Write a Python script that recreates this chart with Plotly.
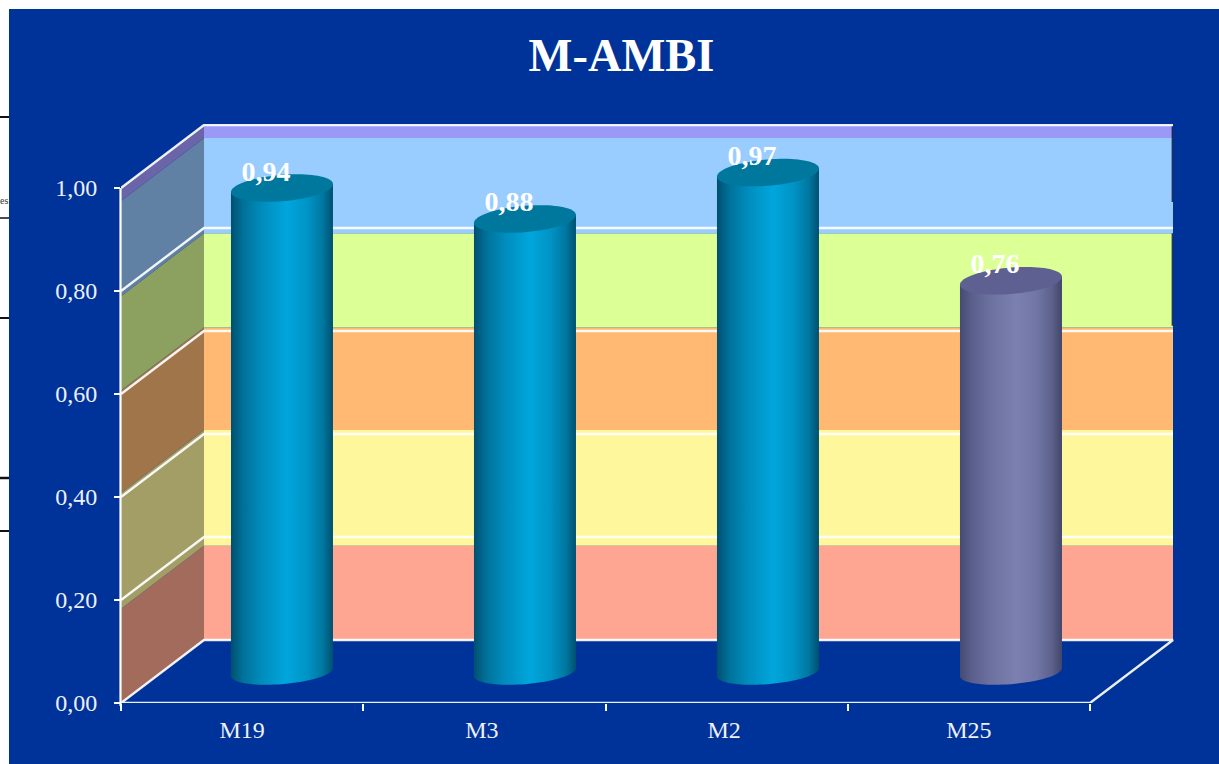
import math
import plotly.graph_objects as go

# ---- data ----
categories = ["M19", "M3", "M2", "M25"]
values = [0.94, 0.88, 0.97, 0.76]
value_labels = ["0,94", "0,88", "0,97", "0,76"]
y_ticks = [0.0, 0.2, 0.4, 0.6, 0.8, 1.0]
label_slots = [0.5, 1.49, 2.49, 3.5]
band_edges = [0.0, 0.183, 0.408, 0.607, 0.79, 0.975, 1.0]
band_back = ["#ffa693", "#fff79c", "#ffb973", "#dcff96", "#99ccff", "#9a99f8"]
band_side = ["#a26b5c", "#a29e66", "#a0754a", "#8ca060", "#6080a4", "#6a64a8"]

BG = "#003399"
LINE = "rgba(255,255,255,0.92)"
FONT = "Liberation Serif"
W, H = 1219, 764
L, R, T, B = 121, 1174, 124, 703
PX_X = (1090 - 121) / 4
PX_Y = 515.0
DX = 83 / PX_X
DY = 63 / PX_Y
A = 51 / PX_X
EB = 12 / PX_Y
TILT = 4 / PX_Y
BAR_STEP = 243 / PX_X

BLUE_SCALE = [[0, "#00506f"], [0.12, "#00719a"], [0.3, "#008cbc"], [0.55, "#00a6dc"],
              [0.75, "#0093c6"], [0.9, "#00779f"], [1, "#00506f"]]
GREY_SCALE = [[0, "#454a72"], [0.12, "#5b5f8c"], [0.3, "#6d719f"], [0.55, "#7c80b0"],
              [0.75, "#7276a6"], [0.9, "#5d618c"], [1, "#42466a"]]
bar_scales = [BLUE_SCALE, BLUE_SCALE, BLUE_SCALE, GREY_SCALE]
bar_tops = ["#00789e", "#00789e", "#00789e", "#5d6090"]

fig = go.Figure()


def poly(xs, ys, color=None, gradient=None):
    kw = dict(x=xs, y=ys, mode="none", fill="toself", hoverinfo="skip",
              showlegend=False, cliponaxis=False)
    if gradient:
        kw["fillgradient"] = dict(type="horizontal", colorscale=gradient)
    else:
        kw["fillcolor"] = color
    fig.add_trace(go.Scatter(**kw))


def line(xs, ys, width=2.4, color=LINE):
    fig.add_trace(go.Scatter(x=xs, y=ys, mode="lines", line=dict(color=color, width=width),
                             hoverinfo="skip", showlegend=False, cliponaxis=False))


n = len(categories)
# walls
for i in range(len(band_back)):
    lo, hi = band_edges[i], band_edges[i + 1]
    poly([0, DX, DX, 0], [lo, lo + DY, hi + DY, hi], color=band_side[i])
    poly([DX, n + DX, n + DX, DX], [lo + DY, lo + DY, hi + DY, hi + DY], color=band_back[i])

# thin dark artefacts at the wall's right edge
line([n + DX - 0.003] * 2, [1 + DY, 1 + DY - 77 / PX_Y], width=1.2, color="#0a1a3a")
line([n + DX - 0.003] * 2, [0.79 + DY, 0.607 + DY + 0.003], width=1.2, color="#0a1a3a")

# gridlines
for v in y_ticks[1:]:
    line([0, DX, n + DX], [v, v + DY, v + DY])
# floor
line([0, DX, n + DX, n, 0], [0, DY, DY, 0, 0])

# cylinders
for i, (v, scale, top) in enumerate(zip(values, bar_scales, bar_tops)):
    cx = 0.5 + DX * 0.48 + i * BAR_STEP
    base = DY * 0.49
    ts = [math.pi * k / 40 for k in range(41)]
    low_x = [cx + A * math.cos(t) for t in ts]
    low_y = [base + TILT * math.cos(t) - EB * math.sin(t) for t in ts]
    poly(low_x + [cx - A, cx + A, low_x[0]],
         low_y + [base + v - TILT, base + v + TILT, low_y[0]], gradient=scale)
    ts2 = [2 * math.pi * k / 80 for k in range(81)]
    poly([cx + A * math.cos(t) for t in ts2],
         [base + v + TILT * math.cos(t) + 1.1 * EB * math.sin(t) for t in ts2], color=top)

# data labels
fig.add_trace(go.Scatter(
    x=[0.5 + DX * 0.48 + i * BAR_STEP - 16 / PX_X for i in range(n)],
    y=[v + DY * 0.49 + 14.5 / PX_Y for v in values],
    mode="text", text=value_labels, textposition="middle center",
    textfont=dict(family=FONT, size=28, color="white", weight="bold"),
    hoverinfo="skip", showlegend=False, cliponaxis=False))

tick_font = dict(family=FONT, size=24, color="#eef1f8")
fig.update_layout(
    width=W, height=H,
    margin=dict(l=L, r=W - R, t=T, b=H - B, pad=0),
    paper_bgcolor="white", plot_bgcolor="rgba(0,0,0,0)",
    separators=",.", showlegend=False,
    title=dict(text="<b>M-AMBI</b>", x=621.5 / W, y=1 - 55 / H, xanchor="center", yanchor="middle",
               font=dict(family=FONT, size=46.5, color="white")),
    xaxis=dict(range=[0, (R - L) / PX_X], showgrid=False, zeroline=False, showline=False,
               tickmode="array", tickvals=label_slots, ticktext=categories,
               ticks="", tickfont=tick_font, ticklabelstandoff=10,
               minor=dict(tickmode="array", tickvals=list(range(n + 1)), ticks="outside",
                          ticklen=7, tickwidth=2, tickcolor="white", showgrid=False)),
    yaxis=dict(range=[0, (B - T) / PX_Y], showgrid=False, zeroline=False, showline=False,
               tickmode="array", tickvals=y_ticks, tickformat=".2f",
               ticks="outside", ticklen=6, tickwidth=2, tickcolor="white",
               tickfont=tick_font, ticklabelstandoff=12),
    shapes=[
        dict(type="rect", xref="paper", yref="paper", layer="below", line_width=0,
             fillcolor=BG, x0=(9 - L) / (R - L), x1=(W - L) / (R - L),
             y0=-(H - B) / (B - T), y1=(B - 9) / (B - T)),
        # value axis line (paper reference so that it is not clipped at the plot edge)
        dict(type="line", xref="paper", yref="paper", layer="above", line=dict(color="white", width=2.2),
             x0=-0.5 / (R - L), x1=-0.5 / (R - L), y0=-3 / (B - T), y1=PX_Y / (B - T)),
    ] + [
        dict(type="line", xref="paper", yref="paper", layer="below", line=dict(color="#111", width=w),
             x0=-L / (R - L), x1=(9 - L) / (R - L), y0=(B - yy) / (B - T), y1=(B - yy) / (B - T))
        for yy, w in [(117, 2), (218, 1.5), (318, 2), (478, 2.5), (531, 2)]
    ],
    annotations=[dict(text="es", xref="paper", yref="paper", x=(9.5 - L) / (R - L),
                      y=(B - 200) / (B - T), xanchor="right", yanchor="middle", showarrow=False,
                      xshift=0, font=dict(family=FONT, size=10, color="#333"))],
)
fig.write_html("out.html", config={"displayModeBar": False},
               post_script="document.body.style.margin='0';document.body.style.overflow='hidden';")
